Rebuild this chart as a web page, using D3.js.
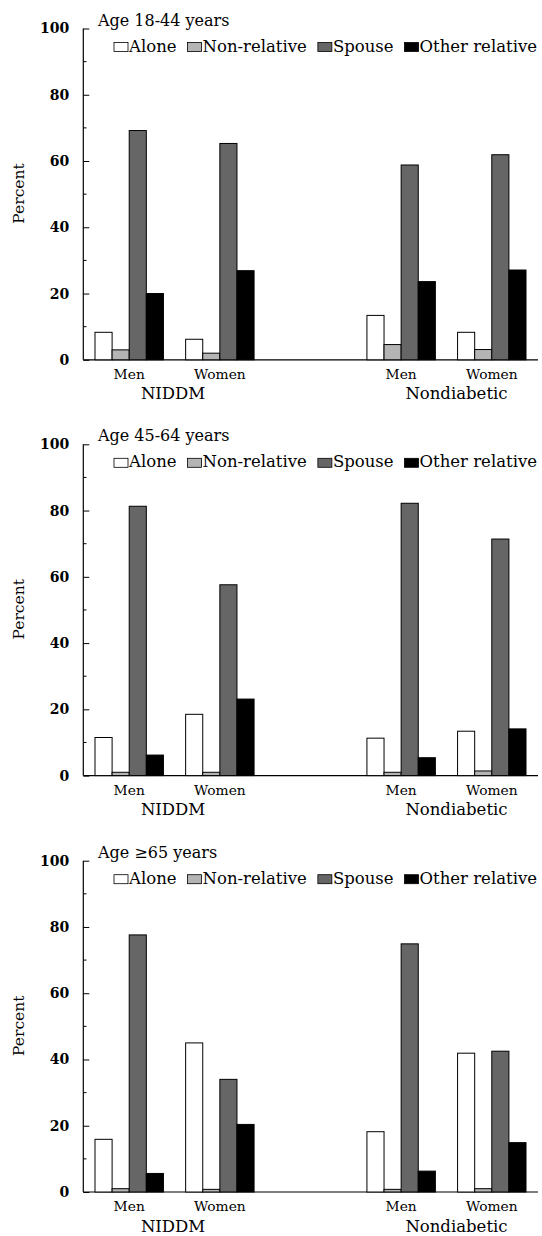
<!DOCTYPE html>
<html><head><meta charset="utf-8">
<script src="https://cdn.jsdelivr.net/npm/d3@7"></script>
<style>body{margin:0;background:#fff}svg{display:block}text{font-family:"DejaVu Serif",serif;fill:#000}</style>
</head><body>
<svg id="c" width="542" height="1236"></svg>
<script>
const panels = ["Age 18-44 years", "Age 45-64 years", "Age \u226565 years"];
const groups = ["NIDDM", "Nondiabetic"];
const sexes = ["Men", "Women"];
const series = ["Alone", "Non-relative", "Spouse", "Other relative"];
const colors = ["#ffffff", "#b4b4b4", "#666666", "#000000"];
const yTicks = [0, 20, 40, 60, 80, 100];
// values[panel][group*2+sex] = [Alone, Non-relative, Spouse, Other relative]
const age1844 = [[8.3, 3.0, 69.2, 20.0], [6.2, 2.0, 65.3, 26.9], [13.4, 4.6, 58.8, 23.6], [8.3, 3.1, 61.9, 27.1]];
const age4564 = [[11.5, 1.0, 81.3, 6.2], [18.5, 1.0, 57.6, 23.1], [11.3, 1.0, 82.2, 5.4], [13.4, 1.4, 71.4, 14.1]];
const age65 = [[15.9, 1.0, 77.6, 5.6], [45.0, 0.8, 34.0, 20.4], [18.2, 0.8, 74.9, 6.3], [41.9, 1.0, 42.5, 14.9]];
const panelData = [age1844, age4564, age65];

const svg = d3.select("#c");
const slots = ["NIDDM|Men", "NIDDM|Women", "gap", "Nondiabetic|Men", "Nondiabetic|Women"];
const x0 = d3.scaleBand().domain(slots).range([83.3, 537.7]).paddingInner(0.245).paddingOuter(0.129);
const x1 = d3.scaleBand().domain(series).range([0, x0.bandwidth()]);
const color = d3.scaleOrdinal().domain(series).range(colors);

const panelTop = [28.5, 444.3, 860.7];
const panelH = 331.3;

panels.forEach((title, pi) => {
  const g = svg.append("g");
  const y = d3.scaleLinear().domain([0, 100]).range([panelTop[pi] + panelH, panelTop[pi]]);
  const y0 = y(0);
  // minor ticks
  g.selectAll(".minor").data(d3.range(10, 100, 20)).join("line")
    .attr("x1", 83.3).attr("x2", 86.5).attr("y1", d => y(d)).attr("y2", d => y(d))
    .attr("stroke", "#000").attr("stroke-width", 1);
  // axis
  const ax = g.append("g").attr("transform", "translate(83.3,0)")
    .call(d3.axisLeft(y).tickValues(yTicks).tickSize(-6).tickPadding(14).tickSizeOuter(0));
  ax.select(".domain").attr("stroke", "#000").attr("stroke-width", 1.2)
    .attr("d", `M0,${y0}V${panelTop[pi]}`);
  ax.selectAll(".tick line").attr("stroke-width", 1);
  ax.selectAll(".tick text").style("font-size", "14px").style("font-weight", "bold");
  // baseline
  g.append("line").attr("x1", 83.3).attr("x2", 538).attr("y1", y0).attr("y2", y0)
    .attr("stroke", "#000").attr("stroke-width", 1.2);
  // bars
  const data = panelData[pi];
  const keyed = [];
  groups.forEach((gr, gi) => sexes.forEach((s, si) => {
    series.forEach((se, k) => keyed.push({slot: gr + "|" + s, series: se, v: data[gi * 2 + si][k]}));
  }));
  g.selectAll(".bar").data(keyed).join("rect")
    .attr("x", d => x0(d.slot) + x1(d.series))
    .attr("width", x1.bandwidth())
    .attr("y", d => y(d.v))
    .attr("height", d => y0 - y(d.v))
    .attr("fill", d => color(d.series))
    .attr("stroke", "#000").attr("stroke-width", 1);
  // category labels
  groups.forEach((gr, gi) => {
    sexes.forEach(s => {
      const slot = gr + "|" + s;
      g.append("text").attr("x", x0(slot) + x0.bandwidth() / 2).attr("y", y0 + 19)
        .attr("text-anchor", "middle").style("font-size", "13.8px").text(s);
    });
    const c = (x0(gr + "|Men") + x0(gr + "|Women") + x0.bandwidth()) / 2;
    g.append("text").attr("x", c + (gi === 1 ? 10 : -1.5)).attr("y", y0 + 39.5)
      .attr("text-anchor", "middle").style("font-size", "16.5px").text(gr);
  });
  // y label
  g.append("text").attr("transform", `translate(23.5,${panelTop[pi] + 165}) rotate(-90)`)
    .attr("text-anchor", "middle").style("font-size", "15.5px").text("Percent");
  // title
  g.append("text").attr("x", 98).attr("y", panelTop[pi] - 3).style("font-size", "16px").text(title);
  // legend, laid out sequentially
  const ly = panelTop[pi] + 23;
  let lx = 114;
  series.forEach((se, k) => {
    g.append("rect").attr("x", lx).attr("y", ly - 9).attr("width", 14).attr("height", 9)
      .attr("fill", color(se)).attr("stroke", "#000").attr("stroke-width", 0.8);
    const t = g.append("text").attr("x", lx + 15).attr("y", ly).style("font-size", "16.5px").text(se);
    lx += 15 + t.node().getComputedTextLength() + 11;
  });
});
</script>
</body></html>
